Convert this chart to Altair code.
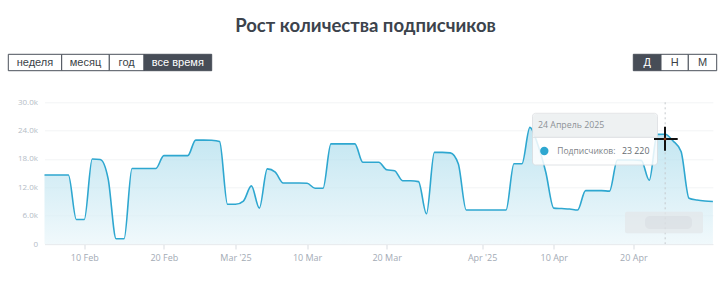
import altair as alt
import pandas as pd

# ---------------- data ----------------
start_date = "2025-02-05"
end_date = "2025-04-30"
dates = pd.date_range(start_date, end_date, freq="D").strftime("%Y-%m-%d").tolist()

feb_values = [14600, 14600, 14600, 14600, 5200, 5200, 18000, 17900, 13800, 1100,
              1100, 16000, 16000, 16000, 16000, 18700, 18700, 18700, 18700, 22000,
              22000, 21950, 21700, 8400]                      # Feb 5 .. Feb 28
mar_values = [8400, 9100, 12300, 7600, 15900, 15200, 12900, 12900, 12900, 12850,
              11800, 11800, 21200, 21200, 21200, 21200, 17300, 17300, 17300, 15700,
              15500, 13400, 13400, 13200, 6400, 19400, 19400, 19300, 17000, 7200,
              7200]                                            # Mar 1 .. Mar 31
apr_values = [7200, 7200, 7200, 7200, 17000, 17000, 24700, 21000, 15200, 7600,
              7500, 7400, 7200, 11300, 11300, 11300, 11200, 17800, 17800, 17800,
              17700, 13500, 23200, 23220, 21800, 19600, 9700, 9300, 9100, 9000]  # Apr 1 .. Apr 30
values = feb_values + mar_values + apr_values

x_tick_dates = ["2025-02-10", "2025-02-20", "2025-03-01", "2025-03-10",
                "2025-03-20", "2025-04-01", "2025-04-10", "2025-04-20"]
y_ticks = [0, 6000, 12000, 18000, 24000, 30000]

title_text = "Рост количества подписчиков"
period_buttons = ["неделя", "месяц", "год", "все время"]
scale_buttons = ["Д", "Н", "М"]
hover_date = "2025-04-24"
hover_label = "24 Апрель 2025"
hover_series = "Подписчиков:"
hover_value = "23 220"

# ---------------- layout ----------------
LEFT, TOP = 44.5, 102.3
W, H = 668.4, 141.7
FONT = "Open Sans"


def ms(s):
    return int(pd.Timestamp(s, tz="UTC").timestamp() * 1000)


df = pd.DataFrame({"date": dates, "subs": values})

x_enc = alt.X(
    "date:T",
    scale=alt.Scale(type="utc", domain=[ms(start_date), ms(end_date)], nice=False),
    axis=alt.Axis(
        values=[ms(d) for d in x_tick_dates],
        labelExpr='utcdate(datum.value) == 1 ? utcFormat(datum.value, "%b \'%y") : utcFormat(datum.value, "%d %b")',
        title=None, grid=False, tickSize=5, tickColor="#d9dde2", domainColor="#e9ecef",
        labelColor="#a3abb5", labelFont=FONT, labelFontSize=9, labelPadding=4,
    ),
)
y_enc = alt.Y(
    "subs:Q",
    scale=alt.Scale(domain=[0, 30000], nice=False),
    axis=alt.Axis(
        values=y_ticks,
        labelExpr="datum.value == 0 ? '0' : format(datum.value / 1000, '.1f') + 'k'",
        title=None, grid=True, gridColor="#f2f4f6", domain=False, ticks=False,
        labelPadding=7, labelColor="#b4bcc6", labelFont=FONT, labelFontSize=8,
    ),
)

area = alt.Chart(df).mark_area(
    interpolate="monotone",
    line={"color": "#2ea7d0", "strokeWidth": 1.6},
    color=alt.Gradient(
        gradient="linear",
        stops=[alt.GradientStop(color="#eaf6fa", offset=0),
               alt.GradientStop(color="#a6daeb", offset=1)],
        x1=1, x2=1, y1=1, y2=0,
    ),
).encode(x=x_enc, y=y_enc)

hover_rule = alt.Chart(pd.DataFrame({"date": [hover_date]})).mark_rule(
    color="#c4c8cc", strokeDash=[2, 3], strokeWidth=1
).encode(x=alt.X("date:T"))

one = alt.Data(values=[{}])
layers = [area, hover_rule]

# blurred watermark
layers.append(alt.Chart(one).mark_rect(fill="#e3e7ea", opacity=0.75, cornerRadius=2).encode(
    x=alt.value(625 - LEFT), x2=alt.value(703 - LEFT), y=alt.value(211.7 - TOP), y2=alt.value(233.3 - TOP)))
layers.append(alt.Chart(one).mark_rect(fill="#cdd2d6", opacity=0.3, cornerRadius=5).encode(
    x=alt.value(645 - LEFT), x2=alt.value(692 - LEFT), y=alt.value(216 - TOP), y2=alt.value(229 - TOP)))

# tooltip box
layers.append(alt.Chart(one).mark_rect(fill="#ffffff", opacity=0.85, stroke="#dcdfe2",
                                       strokeWidth=1, cornerRadius=3).encode(
    x=alt.value(488), x2=alt.value(613), y=alt.value(11), y2=alt.value(62.7)))
layers.append(alt.Chart(one).mark_rect(fill="#eceff1", opacity=0.9, cornerRadius=3).encode(
    x=alt.value(488.5), x2=alt.value(612.5), y=alt.value(11.5), y2=alt.value(35)))
layers.append(alt.Chart(one).mark_rule(color="#dcdfe2").encode(
    x=alt.value(488), x2=alt.value(613), y=alt.value(35)))
layers.append(alt.Chart(one).mark_text(text=hover_label, align="left", baseline="middle",
                                       font=FONT, fontSize=8.8, color="#8d9297").encode(
    x=alt.value(493.5), y=alt.value(22.7)))
layers.append(alt.Chart(one).mark_point(filled=True, shape="circle", size=70, color="#2ea7d0",
                                        opacity=1).encode(
    x=alt.value(499.8), y=alt.value(48.7)))
layers.append(alt.Chart(one).mark_text(text=hover_series, align="left", baseline="middle",
                                       font=FONT, fontSize=8.5, color="#7d8287").encode(
    x=alt.value(512.8), y=alt.value(48.7)))
layers.append(alt.Chart(one).mark_text(text=hover_value, align="left", baseline="middle",
                                       font=FONT, fontSize=8.8, color="#666b70").encode(
    x=alt.value(577.5), y=alt.value(48.7)))

# cursor
layers.append(alt.Chart(one).mark_rule(color="#111111", strokeWidth=2).encode(
    x=alt.value(609.5), x2=alt.value(633.2), y=alt.value(36.7)))
layers.append(alt.Chart(one).mark_rule(color="#111111", strokeWidth=2).encode(
    x=alt.value(620.5), y=alt.value(24.4), y2=alt.value(48.4)))
layers.append(alt.Chart(one).mark_point(filled=True, shape="square", size=6, color="#8a3a1c",
                                        opacity=1).encode(
    x=alt.value(620.5), y=alt.value(36.7)))

# title
layers.append(alt.Chart(one).mark_text(text=title_text, align="center", baseline="alphabetic",
                                       font="Lato", fontSize=18.5, fontWeight="bold",
                                       color="#3c434c").encode(
    x=alt.value(365.5 - LEFT), y=alt.value(31.7 - TOP)))

# buttons
def add_buttons(labels, edges, selected):
    for i, lab in enumerate(labels):
        x0, x1 = edges[i] - LEFT, edges[i + 1] - LEFT
        sel = i == selected
        layers.append(alt.Chart(one).mark_rect(
            fill="#474d57" if sel else "#ffffff", stroke="#4a505a", strokeWidth=1).encode(
            x=alt.value(x0), x2=alt.value(x1), y=alt.value(54.3 - TOP), y2=alt.value(70.7 - TOP)))
        layers.append(alt.Chart(one).mark_text(
            text=lab, align="center", baseline="middle", font="Liberation Sans", fontSize=11,
            color="#ffffff" if sel else "#3a3f47").encode(
            x=alt.value((x0 + x1) / 2), y=alt.value(62.8 - TOP)))


add_buttons(period_buttons, [8.3, 61.7, 109.3, 144.0, 211.7], 3)
add_buttons(scale_buttons, [633.3, 661.0, 688.3, 716.7], 0)

chart = alt.layer(*layers).properties(
    width=W, height=H,
    autosize=alt.AutoSizeParams(type="none"),
    padding={"left": LEFT, "top": TOP, "right": 719 - LEFT - W, "bottom": 282 - TOP - H},
    background="#ffffff",
).configure_view(stroke=None)

chart.save("out.html", embed_options={"renderer": "svg", "actions": False})
